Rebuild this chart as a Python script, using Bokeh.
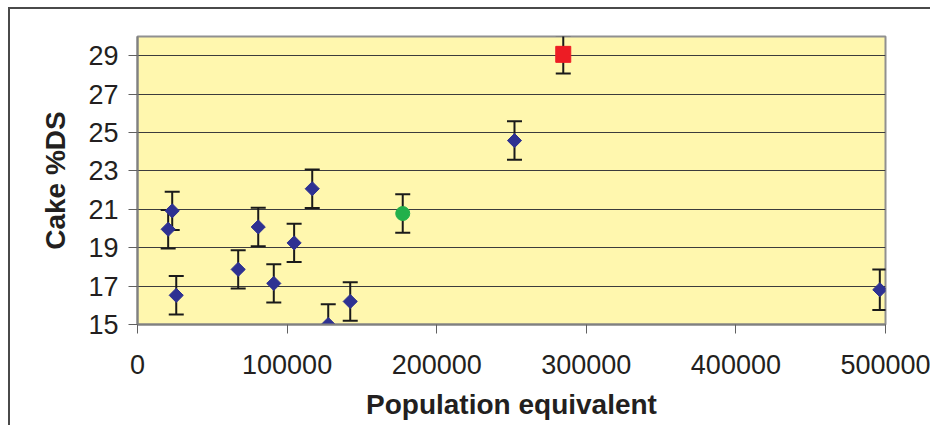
import math
from bokeh.plotting import figure
from bokeh.models import ColumnDataSource, FixedTicker, NumeralTickFormatter, Range1d
from bokeh.embed import file_html
from bokeh.resources import INLINE

# ---- data ----
blue_x = [20500, 23200, 25900, 67300, 80700, 91100, 104700, 116800, 127500, 142200, 252000, 496200]
blue_y = [19.96, 20.92, 16.52, 17.87, 20.08, 17.14, 19.25, 22.07, 15.0, 16.2, 24.58, 16.81]
blue_err = [1.0, 1.0, 1.0, 1.0, 1.0, 1.0, 1.0, 1.0, 1.05, 1.0, 1.0, 1.05]

green_x = [177300]
green_y = [20.78]
green_err = [1.0]

red_x = [284600]
red_y = [29.07]
red_err = [1.0]

x_ticks = [0, 100000, 200000, 300000, 400000, 500000]
y_ticks = [15, 17, 19, 21, 23, 25, 27, 29]

x_title = "Population equivalent"
y_title = "Cake %DS"


def make_source(xs, ys, errs):
    return ColumnDataSource(dict(
        x=xs, y=ys,
        lower=[a - e for a, e in zip(ys, errs)],
        upper=[a + e for a, e in zip(ys, errs)],
    ))


src_blue = make_source(blue_x, blue_y, blue_err)
src_green = make_source(green_x, green_y, green_err)
src_red = make_source(red_x, red_y, red_err)

W, H = 922, 418
p = figure(width=W, height=H, output_backend="svg", toolbar_location=None,
           x_range=Range1d(0, 500000), y_range=Range1d(15, 30),
           min_border_left=127, min_border_right=47,
           min_border_top=27, min_border_bottom=103)
p.styles = {"margin-left": "8px", "margin-top": "7px",
            "border-left": "2px solid #4a4a4a", "border-top": "2px solid #4a4a4a"}

p.background_fill_color = "#FFF7AE"
p.border_fill_color = "white"
p.outline_line_color = "#909090"
p.outline_line_width = 2

p.xgrid.visible = False
p.ygrid.grid_line_color = "#3c3c3c"
p.ygrid.grid_line_width = 1
p.ygrid.ticker = FixedTicker(ticks=y_ticks)

for ax in (p.xaxis[0], p.yaxis[0]):
    ax.axis_line_color = "#808080"
    ax.axis_line_width = 2
    ax.major_tick_line_color = "#606060"
    ax.major_tick_line_width = 1
    ax.major_tick_out = 9
    ax.major_tick_in = 0
    ax.minor_tick_line_color = None
    ax.major_label_text_font = "Liberation Sans"
    ax.major_label_text_font_size = "27px"
    ax.major_label_text_color = "#231f20"
    ax.axis_label_text_font = "Liberation Sans"
    ax.axis_label_text_font_size = "28px"
    ax.axis_label_text_font_style = "bold"
    ax.axis_label_text_color = "#231f20"

p.xaxis.ticker = FixedTicker(ticks=x_ticks)
p.xaxis.formatter = NumeralTickFormatter(format="0")
p.yaxis.ticker = FixedTicker(ticks=y_ticks)
p.xaxis.axis_label = x_title
p.yaxis.axis_label = y_title
p.xaxis.major_label_standoff = 21
p.xaxis.axis_label_standoff = 12
p.yaxis.major_label_standoff = 10
p.yaxis.axis_label_standoff = 14

# error bars
for s in (src_blue, src_green, src_red):
    p.segment(x0="x", y0="lower", x1="x", y1="upper", source=s,
              line_color="#1a1a1a", line_width=2)
    p.scatter(x="x", y="upper", source=s, marker="dash", size=15,
              line_color="#1a1a1a", line_width=2)
    p.scatter(x="x", y="lower", source=s, marker="dash", size=15,
              line_color="#1a1a1a", line_width=2)

# markers
p.scatter(x="x", y="y", source=src_blue, marker="square", angle=math.pi / 4,
          size=10, fill_color="#2E3192", line_color="#2E3192")
p.scatter(x="x", y="y", source=src_green, marker="circle", size=14,
          fill_color="#22B04B", line_color="#22B04B")
p.rect(x="x", y="y", source=src_red, width=15, height=16,
       width_units="screen", height_units="screen",
       fill_color="#ED1C24", line_color="#ED1C24")

open("out.html", "w").write(file_html(p, INLINE))
